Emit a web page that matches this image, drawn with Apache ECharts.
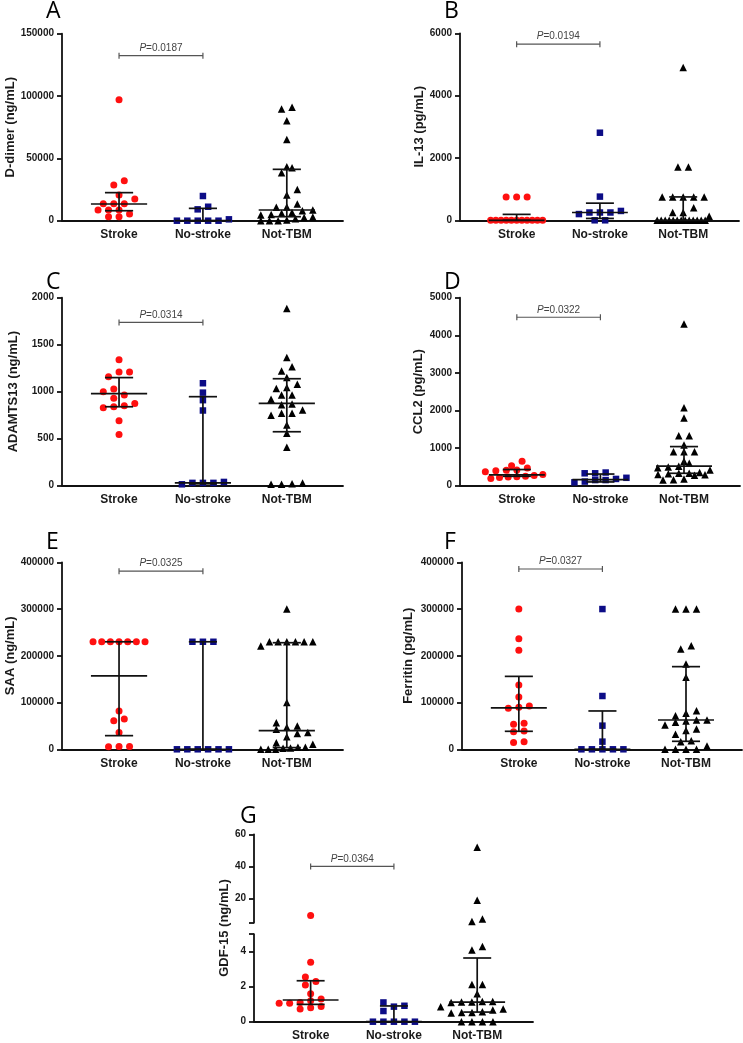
<!DOCTYPE html>
<html><head><meta charset="utf-8">
<script src="https://cdn.jsdelivr.net/npm/echarts@6/dist/echarts.min.js"></script>
<style>html,body{margin:0;padding:0;background:#fff}#c{width:743px;height:1043px}</style>
</head><body><div id="c"></div>
<script>
const groups = ['Stroke', 'No-stroke', 'Not-TBM'];

// Panel A: D-dimer (ng/mL)
const dDimerStroke = [97000, 32100, 28600, 20600, 17400, 13600, 13600, 13600, 8600, 8600, 8600, 5300, 3200, 3200];
const dDimerNoStroke = [19800, 11200, 9100, 1100, 0, 0, 0, 0, 0];
const dDimerNotTBM = [91000, 89500, 80200, 65200, 43300, 42500, 38500, 25100, 20600, 13400, 11000, 10700, 8600, 8000, 6500, 6000, 5000, 4500, 3000, 2500, 1500, 500, 0, 0, 0];
const dDimerSummary = [[13400, 8000, 22500], [0, 0, 9900], [8600, 3200, 41200]]; // median, q1, q3
const dDimerTicks = [0, 150000, 50000];

// Panel B: IL-13 (pg/mL)
const il13Stroke = [750, 750, 750, 0, 0, 0, 0, 0, 0, 0, 0, 0, 0, 0];
const il13NoStroke = [2810, 760, 300, 250, 250, 250, 200, 0, 0];
const il13NotTBM = [4900, 1710, 1710, 750, 750, 750, 750, 750, 400, 250, 250, 130, 0, 0, 0, 0, 0, 0, 0, 0, 0, 0, 0, 0, 0];
const il13Summary = [[0, 0, 190], [250, 60, 550], [0, 0, 750]];
const il13Ticks = [0, 6000, 2000];

// Panel C: ADAMTS13 (ng/mL)
const adamStroke = [1340, 1210, 1210, 1160, 1030, 1000, 965, 930, 875, 850, 840, 830, 690, 545];
const adamNoStroke = [1090, 990, 910, 800, 40, 30, 30, 30, 15];
const adamNotTBM = [1886, 1365, 1266, 1220, 1150, 1078, 1046, 1035, 965, 965, 920, 870, 860, 805, 770, 770, 750, 645, 557, 408, 30, 20, 15, 15];
const adamSummary = [[980, 840, 1150], [30, 20, 947], [876, 574, 1138]];
const adamTicks = [0, 2000, 500];

// Panel D: CCL2 (pg/mL)
const ccl2Stroke = [650, 530, 470, 420, 410, 400, 370, 300, 270, 250, 240, 230, 220, 190];
const ccl2NoStroke = [350, 330, 330, 210, 180, 150, 150, 110, 90];
const ccl2NotTBM = [4300, 2070, 1800, 1330, 1330, 1080, 900, 900, 900, 650, 600, 520, 500, 480, 420, 350, 330, 330, 320, 300, 290, 280, 180, 160, 150];
const ccl2Summary = [[290, 250, 430], [160, 100, 310], [520, 330, 1040]];
const ccl2Ticks = [0, 5000, 1000];

// Panel E: SAA (ng/mL)
const saaStroke = [230000, 230000, 230000, 230000, 230000, 230000, 230000, 82000, 65000, 61000, 36000, 6000, 5500, 6000];
const saaNoStroke = [230000, 230000, 230000, 0, 0, 0, 0, 0, 0];
const saaNotTBM = [300000, 230000, 230000, 230000, 230000, 230000, 230000, 221000, 100000, 57000, 50000, 47000, 43000, 36000, 34000, 27000, 14000, 11000, 4300, 4300, 3000, 2000, 0, 0, 0];
const saaSummary = [[157000, 29200, 230000], [0, 0, 230000], [40000, 3600, 228000]];
const saaTicks = [0, 400000, 100000];

// Panel F: Ferritin (pg/mL)
const ferritinStroke = [300000, 236700, 211800, 137600, 112000, 92700, 89800, 87700, 55600, 53500, 39200, 37800, 16400, 14300];
const ferritinNoStroke = [300000, 114000, 50600, 16400, 0, 0, 0, 0, 0];
const ferritinNotTBM = [300000, 300000, 300000, 221700, 214600, 182500, 154000, 82700, 77000, 72000, 62700, 62700, 60600, 57700, 52000, 43500, 40000, 32000, 18500, 16400, 7000, 0, 0, 0, 0];
const ferritinSummary = [[88400, 38500, 156000], [0, 0, 82000], [62700, 17100, 176800]];
const ferritinTicks = [0, 400000, 100000];

// Panel G: GDF-15 (ng/mL), broken axis
const gdfStroke = [9.5, 3.4, 2.55, 2.3, 2.1, 1.6, 1.3, 1.2, 1.1, 1.05, 1.05, 0.87, 0.8, 0.72];
const gdfNoStroke = [1.1, 0.91, 0.86, 0.61, 0, 0, 0, 0, 0];
const gdfNotTBM = [52, 19, 7.3, 5.7, 4.3, 4.1, 2.13, 2.13, 1.6, 1.15, 1.15, 1.12, 1.12, 1.1, 0.86, 0.72, 0.67, 0.57, 0.53, 0.53, 0.5, 0, 0, 0, 0];
const gdfSummary = [[1.24, 0.99, 2.34], [0, 0, 0.9], [1.12, 0.55, 3.64]];
const gdfLowerTicks = [0, 2, 4];
const gdfUpperTicks = [20, 40, 60];
const gdfBreak = 5;

const pLabels = ['0.0187', '0.0194', '0.0314', '0.0322', '0.0325', '0.0327', '0.0364'];
const pHeights = [132400, 5650, 1737, 4480, 381000, 385700, 40];

const FONT = '"Liberation Sans", Arial, sans-serif';
const X_MIN = -0.68, X_MAX = 2.67;
const colors = ['#ff1010', '#0c0c86', '#000000'];
const symbols = ['circle', 'rect', 'triangle'];
const sizes = [7, 6.5, 7.5];

const panels = [
  {letter: 'A', title: 'D-dimer (ng/mL)', sets: [dDimerStroke, dDimerNoStroke, dDimerNotTBM], summary: dDimerSummary, ticks: dDimerTicks, grid: {left: 62, top: 33.7, width: 281, height: 187}, nameGap: 41, lx: 46, ly: 11},
  {letter: 'B', title: 'IL-13 (pg/mL)', sets: [il13Stroke, il13NoStroke, il13NotTBM], summary: il13Summary, ticks: il13Ticks, grid: {left: 460, top: 33.3, width: 279, height: 187}, nameGap: 33, lx: 444, ly: 11},
  {letter: 'C', title: 'ADAMTS13 (ng/mL)', sets: [adamStroke, adamNoStroke, adamNotTBM], summary: adamSummary, ticks: adamTicks, grid: {left: 62, top: 297.7, width: 281, height: 188}, nameGap: 42, lx: 46, ly: 282.5},
  {letter: 'D', title: 'CCL2 (pg/mL)', sets: [ccl2Stroke, ccl2NoStroke, ccl2NotTBM], summary: ccl2Summary, ticks: ccl2Ticks, grid: {left: 460, top: 297.7, width: 280, height: 188}, nameGap: 35, lx: 444, ly: 282.5},
  {letter: 'E', title: 'SAA (ng/mL)', sets: [saaStroke, saaNoStroke, saaNotTBM], summary: saaSummary, ticks: saaTicks, grid: {left: 62, top: 562.3, width: 281, height: 187}, nameGap: 44, lx: 46, ly: 542.5},
  {letter: 'F', title: 'Ferritin (pg/mL)', sets: [ferritinStroke, ferritinNoStroke, ferritinNotTBM], summary: ferritinSummary, ticks: ferritinTicks, grid: {left: 462, top: 562.3, width: 280, height: 187}, nameGap: 47, lx: 444, ly: 542.5}
];

// Prism-like row layout of dots (x offsets in category units)
function swarm(values, toPx, pxPerUnit) {
  const H = 10.5, MAXW = 52, TOL = 5.5, D = 6.5;
  const order = values.map((v, i) => i).sort((a, b) => values[a] - values[b]);
  const rows = []; let cur = [];
  order.forEach(i => {
    if (cur.length && toPx(values[i]) - toPx(values[cur[0]]) > TOL) { rows.push(cur); cur = []; }
    cur.push(i);
  });
  if (cur.length) rows.push(cur);
  const off = new Array(values.length).fill(0);
  const placed = [];
  rows.forEach(row => {
    const n = row.length;
    const step = n > 1 ? Math.min(H, MAXW / (n - 1)) : 0;
    const base = row.map((_, k) => (k - (n - 1) / 2) * step);
    let chosen = 0;
    for (const s of [0, H / 2, -H / 2, H, -H]) {
      const ok = row.every((i, k) => placed.every(p => !(Math.abs(p[0] - (base[k] + s)) < D && Math.abs(p[1] - toPx(values[i])) < D)));
      if (ok) { chosen = s; break; }
    }
    row.forEach((i, k) => { off[i] = (base[k] + chosen) / pxPerUnit; placed.push([base[k] + chosen, toPx(values[i])]); });
  });
  return off;
}

const axisLineStyle = {color: '#111', width: 1.8};
const grids = [], xAxes = [], yAxes = [], series = [], graphics = [];
const plainNum = v => String(v);

function makeX(gi, show) {
  return {gridIndex: gi, type: 'value', min: X_MIN, max: X_MAX, show: show,
    axisLine: {show: true, onZero: false, lineStyle: axisLineStyle}, axisTick: {show: false}, splitLine: {show: false},
    axisLabel: {customValues: [0, 1, 2], formatter: v => groups[Math.round(v)] || '', fontFamily: FONT, fontWeight: 'bold', fontSize: 12, color: '#1a1a1a', margin: 8}};
}

function errorSeries(gi, summary) {
  return {type: 'custom', xAxisIndex: gi, yAxisIndex: gi, silent: true, z: 5,
    data: summary.map((s, g) => [g, s[0], s[1], s[2]]),
    encode: {x: 0, y: [1, 2, 3]},
    renderItem: (params, api) => {
      const c = api.value(0), med = api.value(1), q1 = api.value(2), q3 = api.value(3);
      const st = {stroke: '#111', lineWidth: 1.7};
      const seg = (a, b) => ({type: 'line', shape: {x1: a[0], y1: a[1], x2: b[0], y2: b[1]}, style: st});
      return {type: 'group', children: [
        seg(api.coord([c - 0.335, med]), api.coord([c + 0.335, med])),
        seg(api.coord([c - 0.168, q1]), api.coord([c + 0.168, q1])),
        seg(api.coord([c - 0.168, q3]), api.coord([c + 0.168, q3])),
        seg(api.coord([c, q1]), api.coord([c, q3]))
      ]};
    }};
}

function bracketSeries(gi, label, yv) {
  return {type: 'custom', xAxisIndex: gi, yAxisIndex: gi, silent: true, z: 5,
    data: [[0, 1, yv]], encode: {x: [0, 1], y: 2},
    renderItem: (params, api) => {
      const a = api.coord([api.value(0), api.value(2)]);
      const b = api.coord([api.value(1), api.value(2)]);
      const st = {stroke: '#555', lineWidth: 1.2};
      return {type: 'group', children: [
        {type: 'line', shape: {x1: a[0], y1: a[1], x2: b[0], y2: b[1]}, style: st},
        {type: 'line', shape: {x1: a[0], y1: a[1] - 3, x2: a[0], y2: a[1] + 3}, style: st},
        {type: 'line', shape: {x1: b[0], y1: b[1] - 3, x2: b[0], y2: b[1] + 3}, style: st},
        {type: 'text', style: {x: (a[0] + b[0]) / 2, y: a[1] - 2.5, text: '{i|P}=' + label, align: 'center', verticalAlign: 'bottom',
          fill: '#444', fontFamily: FONT, fontSize: 10, rich: {i: {fontStyle: 'italic', fontFamily: FONT, fontSize: 10, fill: '#444'}}}}
      ]};
    }};
}

function letter(t, x, y) {
  graphics.push({type: 'text', x: x, y: y, style: {text: t, fontFamily: '"Open Sans", "Noto Sans", sans-serif', fontSize: 23, fill: '#000', verticalAlign: 'middle'}});
}

panels.forEach((p, gi) => {
  grids.push(p.grid);
  xAxes.push(makeX(gi, true));
  yAxes.push({gridIndex: gi, type: 'value', min: p.ticks[0], max: p.ticks[1], interval: p.ticks[2],
    axisLine: {show: true, onZero: false, lineStyle: axisLineStyle}, axisTick: {show: true, length: 5, lineStyle: axisLineStyle},
    splitLine: {show: false},
    axisLabel: {formatter: plainNum, fontFamily: FONT, fontWeight: 'bold', fontSize: 10, color: '#1a1a1a', margin: 8},
    name: p.title, nameLocation: 'middle', nameGap: p.nameGap,
    nameTextStyle: {fontFamily: FONT, fontWeight: 'bold', fontSize: 13, color: '#1a1a1a'}});
  const pxPerUnit = p.grid.width / (X_MAX - X_MIN);
  const toPx = v => v / p.ticks[1] * p.grid.height;
  p.sets.forEach((vals, g) => {
    const off = swarm(vals, toPx, pxPerUnit);
    series.push({type: 'scatter', xAxisIndex: gi, yAxisIndex: gi, silent: true, z: 3, symbol: symbols[g], symbolSize: sizes[g],
      itemStyle: {color: colors[g], opacity: 1}, data: vals.map((v, k) => [g + off[k], v])});
  });
  series.push(errorSeries(gi, p.summary));
  series.push(bracketSeries(gi, pLabels[gi], pHeights[gi]));
  letter(p.letter, p.lx, p.ly);
});

// Panel G: two stacked grids (lower 0-5, upper 5-60)
const gLower = {left: 254, top: 934.2, width: 279, height: 87.5};
const gUpper = {left: 254, top: 834.3, width: 279, height: 88.4};
const LI = 6, UI = 7;
grids.push(gLower, gUpper);
xAxes.push(makeX(LI, true));
xAxes.push(makeX(UI, false));
const yCommon = {type: 'value', splitLine: {show: false},
  axisLine: {show: true, onZero: false, lineStyle: axisLineStyle}};
yAxes.push(Object.assign({}, yCommon, {gridIndex: LI, min: 0, max: gdfBreak,
  axisTick: {show: true, length: 5, lineStyle: axisLineStyle, customValues: gdfLowerTicks.concat([gdfBreak])},
  axisLabel: {customValues: gdfLowerTicks, formatter: plainNum, fontFamily: FONT, fontWeight: 'bold', fontSize: 10, color: '#1a1a1a', margin: 8}}));
yAxes.push(Object.assign({}, yCommon, {gridIndex: UI, min: gdfBreak, max: 60,
  axisTick: {show: true, length: 5, lineStyle: axisLineStyle, customValues: [gdfBreak].concat(gdfUpperTicks)},
  axisLabel: {customValues: gdfUpperTicks, formatter: plainNum, fontFamily: FONT, fontWeight: 'bold', fontSize: 10, color: '#1a1a1a', margin: 8}}));
const gPxPerUnit = gLower.width / (X_MAX - X_MIN);
const gGap = gLower.top - (gUpper.top + gUpper.height);
const gToPx = v => v <= gdfBreak ? v / gdfBreak * gLower.height : gLower.height + gGap + (v - gdfBreak) / (60 - gdfBreak) * gUpper.height;
[gdfStroke, gdfNoStroke, gdfNotTBM].forEach((vals, g) => {
  const off = swarm(vals, gToPx, gPxPerUnit);
  const lo = [], hi = [];
  vals.forEach((v, k) => (v > gdfBreak ? hi : lo).push([g + off[k], v]));
  const base = {type: 'scatter', silent: true, z: 3, symbol: symbols[g], symbolSize: sizes[g], itemStyle: {color: colors[g], opacity: 1}};
  series.push(Object.assign({}, base, {xAxisIndex: LI, yAxisIndex: LI, data: lo}));
  series.push(Object.assign({}, base, {xAxisIndex: UI, yAxisIndex: UI, data: hi}));
});
series.push(errorSeries(LI, gdfSummary));
series.push(bracketSeries(UI, pLabels[6], pHeights[6]));
letter('G', 240, 816.5);
graphics.push({type: 'text', x: 224.5, y: 928, rotation: Math.PI / 2,
  style: {text: 'GDF-15 (ng/mL)', fontFamily: FONT, fontWeight: 'bold', fontSize: 13, fill: '#1a1a1a', align: 'center', verticalAlign: 'middle'}});

const chart = echarts.init(document.getElementById('c'), null, {renderer: 'canvas'});
chart.setOption({animation: false, backgroundColor: '#fff', grid: grids, xAxis: xAxes, yAxis: yAxes, series: series, graphic: graphics});
</script></body></html>
